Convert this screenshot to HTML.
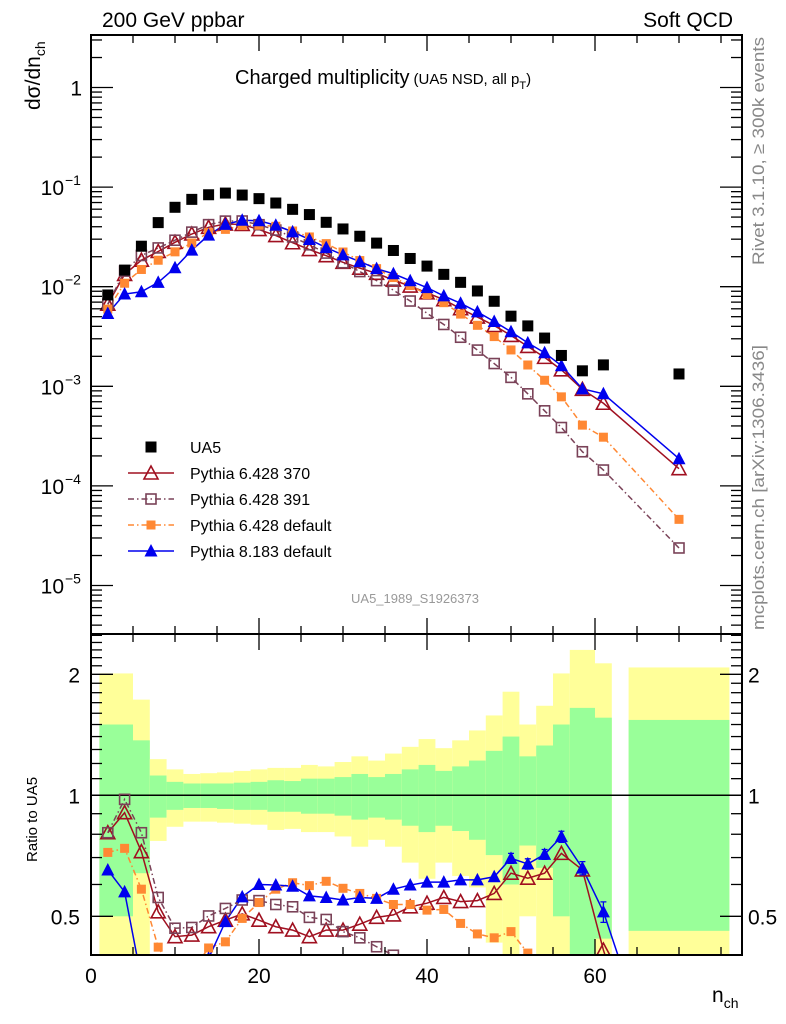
<!DOCTYPE html>
<html><head><meta charset="utf-8"><style>
html,body{margin:0;padding:0;background:#fff;overflow:hidden;width:786px;height:1024px;}
svg{display:block;}
svg text{font-family:"Liberation Sans",Arial,sans-serif;}
</style></head><body>
<svg id="chart" width="786" height="1024" viewBox="0 0 786 1024" xmlns="http://www.w3.org/2000/svg">
<defs>
<clipPath id="clipMain"><rect x="91" y="35" width="651" height="599"/></clipPath>
<clipPath id="clipRatio"><rect x="91" y="634" width="651" height="321"/></clipPath>
</defs>
<g id="bands" clip-path="url(#clipRatio)"></g>
<line x1="91" x2="742" y1="795.3" y2="795.3" stroke="#000" stroke-width="1.5"/>
<g id="ratioSeries" clip-path="url(#clipRatio)"></g>
<g id="mainSeries" clip-path="url(#clipMain)"></g>
<g id="axes"></g>
<rect x="91" y="35" width="651" height="599" fill="none" stroke="#000" stroke-width="2"/>
<rect x="91" y="634" width="651" height="321" fill="none" stroke="#000" stroke-width="2"/>
<text x="102" y="27" font-size="21">200 GeV ppbar</text>
<text x="733" y="27" font-size="21" text-anchor="end">Soft QCD</text>
<text x="235" y="84" font-size="20">Charged multiplicity<tspan font-size="15" dx="4">(UA5 NSD, all p</tspan><tspan font-size="11" dy="5">T</tspan><tspan font-size="15" dy="-5">)</tspan></text>
<text transform="translate(40,110) rotate(-90)" font-size="21">dσ/dn<tspan font-size="14" dy="5">ch</tspan></text>
<text transform="translate(37,862) rotate(-90)" font-size="15">Ratio to UA5</text>
<text x="712" y="1002" font-size="21">n<tspan font-size="14" dy="6">ch</tspan></text>
<text transform="translate(764,265) rotate(-90)" font-size="17" fill="#888" textLength="228" lengthAdjust="spacingAndGlyphs">Rivet 3.1.10, ≥ 300k events</text>
<text transform="translate(764,630) rotate(-90)" font-size="17" fill="#888" textLength="285" lengthAdjust="spacingAndGlyphs">mcplots.cern.ch [arXiv:1306.3436]</text>
<text x="415" y="603" font-size="13" fill="#999" text-anchor="middle">UA5_1989_S1926373</text>
<g id="legend"></g>
</svg>
<script>
// ---- data ----
const nch = [2,4,6,8,10,12,14,16,18,20,22,24,26,28,30,32,34,36,38,40,42,44,46,48,50,52,54,56,58.5,61,70];
const ua5 = [0.00826,0.01468,0.0255,0.0440,0.0627,0.0753,0.0838,0.0871,0.0832,0.0766,0.0692,0.0598,0.0530,0.0443,0.0380,0.0321,0.0274,0.0231,0.0192,0.0161,0.0133,0.01106,0.00906,0.00714,0.00506,0.00404,0.00305,0.00204,0.00143,0.00164,0.00133];
const ratio370 = [0.807,0.905,0.724,0.513,0.445,0.449,0.471,0.489,0.507,0.489,0.471,0.462,0.445,0.462,0.462,0.478,0.497,0.504,0.528,0.539,0.557,0.544,0.547,0.570,0.640,0.622,0.640,0.717,0.652,0.412,0.112];
const ratio391 = [0.807,0.977,0.807,0.557,0.467,0.469,0.501,0.523,0.549,0.547,0.535,0.528,0.497,0.491,0.458,0.442,0.420,0.400,0.374,0.336,0.314,0.281,0.255,0.237,0.243,0.208,0.186,0.189,0.154,0.088,0.0179];
const ratioDef6 = [0.721,0.738,0.584,0.419,0.357,0.365,0.417,0.432,0.494,0.541,0.584,0.606,0.596,0.611,0.587,0.570,0.554,0.535,0.535,0.518,0.520,0.480,0.452,0.442,0.458,0.405,0.377,0.384,0.285,0.188,0.0347];
const ratioP8 = [0.652,0.575,0.349,0.251,0.247,0.309,0.393,0.485,0.559,0.600,0.598,0.594,0.562,0.557,0.549,0.557,0.554,0.584,0.598,0.608,0.608,0.616,0.616,0.627,0.697,0.675,0.713,0.789,0.659,0.513,0.141];
const errP8 = [0,0,0,0,0,0,0,0,0,0,0,0,0,0,0,0,0,0,0,0,0,0,0,0,0.02,0.02,0.02,0.025,0.025,0.03,0.03];
const binLo = [1,5,7,9,11,13,15,17,19,21,23,25,27,29,31,33,35,37,39,41,43,45,47,49,51,53,55,57,60,64];
const binHi = [5,7,9,11,13,15,17,19,21,23,25,27,29,31,33,35,37,39,41,43,45,47,49,51,53,55,57,60,62,76];
const yellowHi = [2.01,1.73,1.23,1.16,1.13,1.135,1.14,1.15,1.16,1.17,1.17,1.19,1.18,1.21,1.25,1.22,1.27,1.32,1.38,1.31,1.37,1.45,1.58,1.81,1.50,1.67,2.01,2.30,2.13,2.08];
const greenHi = [1.50,1.37,1.12,1.08,1.07,1.07,1.07,1.075,1.08,1.09,1.085,1.10,1.10,1.11,1.13,1.11,1.13,1.16,1.19,1.15,1.18,1.22,1.29,1.40,1.25,1.33,1.50,1.65,1.56,1.54];
const greenLo = [0.50,0.64,0.88,0.92,0.93,0.93,0.925,0.92,0.92,0.91,0.91,0.90,0.90,0.89,0.87,0.88,0.87,0.84,0.81,0.84,0.815,0.775,0.71,0.60,0.75,0.66,0.50,0.30,0.44,0.46];
const yellowLo = [0.30,0.30,0.77,0.835,0.86,0.86,0.855,0.85,0.845,0.82,0.825,0.81,0.81,0.79,0.745,0.775,0.745,0.68,0.62,0.68,0.63,0.59,0.43,0.30,0.50,0.30,0.30,0.30,0.30,0.30];
const xTicksMajor = [0,20,40,60];
const mainTickLabels = [["1",""],["10","−1"],["10","−2"],["10","−3"],["10","−4"],["10","−5"]];
const ratioTickLabels = ["2","1","0.5"];
const ratioTickValues = [2,1,0.5];

// ---- scales ----
const X0=91, XS=8.4;
function sx(n){return X0+n*XS;}
function sy(v){return 87.5-99.6*Math.log10(v);}
function sr(r){return 795.3-121*Math.log2(r);}
const NS="http://www.w3.org/2000/svg";
function mk(tag,attrs,parent){const e=document.createElementNS(NS,tag);for(const k in attrs)e.setAttribute(k,attrs[k]);parent.appendChild(e);return e;}

// ---- bands ----
const bandsG=document.getElementById('bands');
for(let i=0;i<binLo.length;i++){
  const x=sx(binLo[i]), w=sx(binHi[i])-sx(binLo[i]);
  const y1=mk('rect',{x:x,y:sr(yellowHi[i]),width:w,height:sr(yellowLo[i])-sr(yellowHi[i]),fill:'#ffff99'},bandsG);
  
  
  const g1=mk('rect',{x:x,y:sr(greenHi[i]),width:w,height:sr(greenLo[i])-sr(greenHi[i]),fill:'#99ff99'},bandsG);
  
  
}

// ---- markers ----
function marker(kind,x,y,color,parent,name){
  let e;
  if(kind==='sq') e=mk('rect',{x:x-5.5,y:y-5.5,width:11,height:11,fill:'#000'},parent);
  else if(kind==='osq') e=mk('rect',{x:x-5,y:y-5,width:10,height:10,fill:'#fff','fill-opacity':0,stroke:color,'stroke-width':1.6},parent);
  else if(kind==='fsq') e=mk('rect',{x:x-4.5,y:y-4.5,width:9,height:9,fill:color},parent);
  else if(kind==='otri') e=mk('polygon',{points:`${x},${y-7} ${x-7},${y+6} ${x+7},${y+6}`,fill:'none',stroke:color,'stroke-width':1.6},parent);
  else e=mk('polygon',{points:`${x},${y-7} ${x-6.5},${y+5.5} ${x+6.5},${y+5.5}`,fill:color},parent);
  
  
}
const series=[
  {r:ratio370,color:'#a01020',kind:'otri',dash:'',name:'pythia-6428-370'},
  {r:ratio391,color:'#7a4258',kind:'osq',dash:'6,3,1.5,3',name:'pythia-6428-391'},
  {r:ratioDef6,color:'#ff8833',kind:'fsq',dash:'6,3,1.5,3',name:'pythia-6428-default'},
  {r:ratioP8,color:'#0000ee',kind:'ftri',dash:'',name:'pythia-8183-default'}
];
const mainG=document.getElementById('mainSeries');
const ratioG=document.getElementById('ratioSeries');
series.forEach(s=>{
  const ptsM=nch.map((n,i)=>sx(n)+','+sy(ua5[i]*s.r[i])).join(' ');
  const lm=mk('polyline',{points:ptsM,fill:'none',stroke:s.color,'stroke-width':1.5,'stroke-dasharray':s.dash},mainG);
  
  
  const ptsR=nch.map((n,i)=>sx(n)+','+sr(s.r[i])).join(' ');
  const lr=mk('polyline',{points:ptsR,fill:'none',stroke:s.color,'stroke-width':1.5,'stroke-dasharray':s.dash},ratioG);
  
  
});
series.forEach(s=>{
  nch.forEach((n,i)=>{
    marker(s.kind,sx(n),sy(ua5[i]*s.r[i]),s.color,mainG,s.name+'-point');
    marker(s.kind,sx(n),sr(s.r[i]),s.color,ratioG,s.name+'-ratio-point');
  });
});
nch.forEach((n,i)=>{
  if(errP8[i]>0){
    const x=sx(n),y1=sr(ratioP8[i]+errP8[i]),y2=sr(ratioP8[i]-errP8[i]);
    const eb=mk('path',{d:`M${x},${y1}V${y2}M${x-3},${y1}H${x+3}M${x-3},${y2}H${x+3}`,stroke:'#0000ee','stroke-width':1.3,fill:'none'},ratioG);
    
    
  }
});
nch.forEach((n,i)=>{ marker('sq',sx(n),sy(ua5[i]),'#000',mainG,'ua5-data-point'); });

// ---- axes ----
const ax=document.getElementById('axes');
function tick(x1,y1,x2,y2){mk('line',{x1:x1,y1:y1,x2:x2,y2:y2,stroke:'#000','stroke-width':1.3},ax);}
for(let n=0;n<=77;n+=5){
  const x=sx(n), L=(n%20===0)?16:8;
  tick(x,35,x,35+L); tick(x,634,x,634-L); tick(x,634,x,634+L); tick(x,955,x,955-L);
}
xTicksMajor.forEach(n=>{
  const t=mk('text',{x:sx(n),y:983,'font-size':21,'text-anchor':'middle'},ax);
  t.textContent=String(n);
  
  
});
for(let d=-6;d<=0;d++){
  for(let m=1;m<10;m++){
    const v=m*Math.pow(10,d), y=sy(v);
    if(y<35||y>634) continue;
    const L=(m===1)?22:11;
    tick(91,y,91+L,y); tick(742,y,742-L,y);
  }
}
mainTickLabels.forEach((lab,k)=>{
  const y=sy(Math.pow(10,-k));
  const t=mk('text',{x:lab[1]?64:82,y:y+8,'font-size':21,'text-anchor':'end'},ax);
  t.textContent=lab[0];
  
  
  if(lab[1]){
    const s=mk('text',{x:65,y:y-2,'font-size':14},ax);
    s.textContent=lab[1];
    
    
  }
});
[0.4,0.5,0.6,0.7,0.8,0.9,1,1.1,1.2,1.3,1.4,1.5,1.6,1.7,1.8,1.9,2,2.1,2.2,2.3,2.4,2.5].forEach(v=>{
  const y=sr(v); if(y<634||y>955) return;
  const L=(v===1||v===2||v===0.5)?22:11;
  tick(91,y,91+L,y); tick(742,y,742-L,y);
});
ratioTickValues.forEach((v,k)=>{
  const y=sr(v);
  const t=mk('text',{x:80,y:y+8,'font-size':21,'text-anchor':'end'},ax);
  t.textContent=ratioTickLabels[k];
  
  
  const t2=mk('text',{x:748,y:y+8,'font-size':21},ax);
  t2.textContent=ratioTickLabels[k];
  
  
});

// ---- legend ----
const leg=document.getElementById('legend');
const legNames=['UA5','Pythia 6.428 370','Pythia 6.428 391','Pythia 6.428 default','Pythia 8.183 default'];
legNames.forEach((nm,k)=>{
  const y=447+k*26;
  if(k>0){
    const s=series[k-1];
    const l=mk('line',{x1:128,x2:174,y1:y,y2:y,stroke:s.color,'stroke-width':1.5,'stroke-dasharray':s.dash},leg);
    
    
    marker(s.kind,151,y,s.color,leg,'legend-marker');
  } else marker('sq',151,y,'#000',leg,'legend-marker');
  const t=mk('text',{x:190,y:y+6,'font-size':16},leg);
  t.textContent=nm;
  
  
});
</script>
</body></html>
